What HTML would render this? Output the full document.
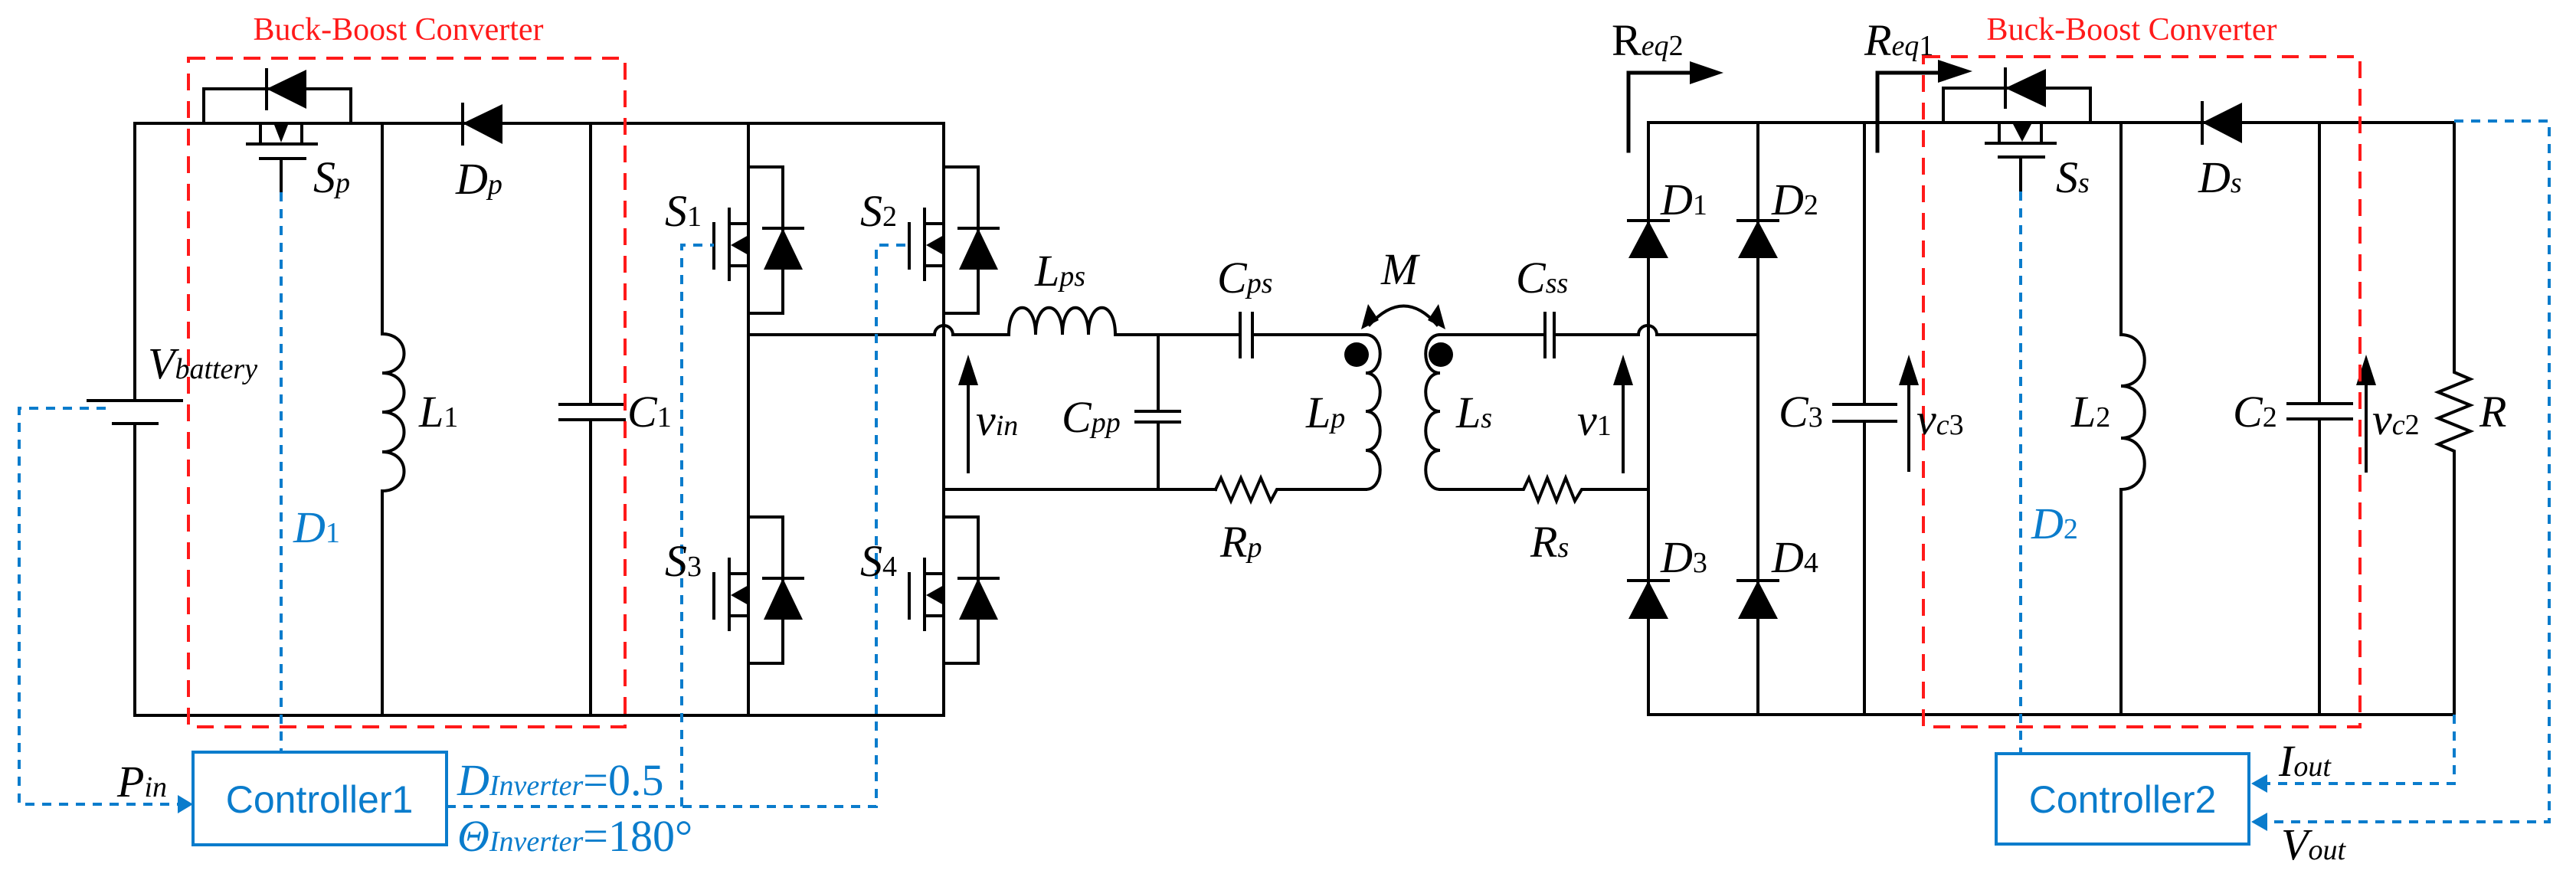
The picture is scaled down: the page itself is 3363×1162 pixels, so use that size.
<!DOCTYPE html>
<html><head><meta charset="utf-8"><style>
html,body{margin:0;padding:0;background:#fff;}
svg{display:block;}
text{font-family:"Liberation Serif",serif;}
.l{font-style:italic;font-size:58px;fill:#000;}
.s{font-size:38px;}
.b{fill:#0a7ccc;}
</style></head><body>
<svg width="3363" height="1162" viewBox="0 0 3363 1162" xmlns="http://www.w3.org/2000/svg">
<defs>
<g id="mos">
  <line x1="977" y1="292" x2="952" y2="292"/>
  <line x1="977" y1="347" x2="952" y2="347"/>
  <line x1="952" y1="273" x2="952" y2="365"/>
  <line x1="932" y1="292" x2="932" y2="350"/>
  <polygon points="954,320 977,307 977,333" fill="#000" stroke="none"/>
  <polyline points="977,218 1022,218 1022,409 977,409" fill="none"/>
  <polygon points="1022,298 997,352 1048,352" fill="#000" stroke="none"/>
  <line x1="997" y1="298" x2="1048" y2="298"/>
</g>
</defs>
<g stroke="#000" stroke-width="4" fill="none" stroke-linecap="square">
<polyline points="176,523 176,161 1232,161"/>
<polyline points="176,553 176,934 1232,934"/>
<line x1="115" y1="523" x2="237" y2="523"/>
<line x1="148" y1="553" x2="205" y2="553"/>
<polyline points="266,161 266,116 458,116 458,161"/>
<polygon points="348,116 400,91 400,142" fill="#000" stroke="none"/>
<line x1="348" y1="91" x2="348" y2="142"/>
<line x1="340" y1="161" x2="340" y2="188"/>
<line x1="394" y1="161" x2="394" y2="188"/>
<line x1="323" y1="188" x2="413" y2="188"/>
<polygon points="358,163 376,163 367,186" fill="#000" stroke="none"/>
<line x1="340" y1="207" x2="398" y2="207"/>
<line x1="367" y1="207" x2="367" y2="251"/>
<polygon points="604,161 656,136 656,188" fill="#000" stroke="none"/>
<line x1="604" y1="136" x2="604" y2="188"/>
<line x1="499" y1="161" x2="499" y2="436"/>
<path d="M499,436 C537,436 537,487 499,487 C537,487 537,538 499,538 C537,538 537,590 499,590 C537,590 537,641 499,641"/>
<line x1="499" y1="641" x2="499" y2="934"/>
<line x1="771" y1="161" x2="771" y2="528"/>
<line x1="731" y1="528" x2="815" y2="528"/>
<line x1="731" y1="548" x2="815" y2="548"/>
<line x1="771" y1="548" x2="771" y2="934"/>
<line x1="977" y1="161" x2="977" y2="934"/>
<line x1="1232" y1="161" x2="1232" y2="934"/>
<use href="#mos"/>
<use href="#mos" transform="translate(255,0)"/>
<use href="#mos" transform="translate(0,457)"/>
<use href="#mos" transform="translate(255,457)"/>
<path d="M977,437 L1220,437 A12,12 0 0 1 1244,437 L1317,437"/>
<path d="M1317,437 C1317,390 1352,390 1352,437 C1352,390 1387,390 1387,437 C1387,390 1421,390 1421,437 C1421,390 1456,390 1456,437"/>
<line x1="1456" y1="437" x2="1619" y2="437"/>
<line x1="1619" y1="409" x2="1619" y2="466"/>
<line x1="1635" y1="409" x2="1635" y2="466"/>
<line x1="1635" y1="437" x2="1783" y2="437"/>
<line x1="1232" y1="639" x2="1587" y2="639"/>
<line x1="1512" y1="437" x2="1512" y2="537"/>
<line x1="1483" y1="537" x2="1540" y2="537"/>
<line x1="1483" y1="551" x2="1540" y2="551"/>
<line x1="1512" y1="551" x2="1512" y2="639"/>
<polyline points="1587,639 1594,624 1607,654 1620,624 1633,654 1646,624 1659,654 1667,639 1783,639"/>
<path d="M1783,437 C1808,437 1808,487 1783,487 C1808,487 1808,537 1783,537 C1808,537 1808,588 1783,588 C1808,588 1808,639 1783,639"/>
<path d="M1880,437 C1855,437 1855,487 1880,487 C1855,487 1855,537 1880,537 C1855,537 1855,588 1880,588 C1855,588 1855,639 1880,639"/>
<line x1="1880" y1="437" x2="2017" y2="437"/>
<line x1="2017" y1="409" x2="2017" y2="466"/>
<line x1="2029" y1="409" x2="2029" y2="466"/>
<path d="M2029,437 L2139,437 A12,12 0 0 1 2163,437 L2295,437"/>
<polyline points="1880,639 1989,639 1996,624 2008,654 2020,624 2032,654 2044,624 2056,654 2065,639 2152,639"/>
<path d="M1788,424 Q1833,375 1876,424"/>
<polyline points="2152,160 3204,160"/>
<polyline points="2152,160 2152,933 3204,933"/>
<line x1="2295" y1="160" x2="2295" y2="933"/>
<line x1="2434" y1="160" x2="2434" y2="528"/>
<line x1="2394" y1="528" x2="2475" y2="528"/>
<line x1="2394" y1="550" x2="2475" y2="550"/>
<line x1="2434" y1="550" x2="2434" y2="933"/>
<line x1="2126" y1="288" x2="2178" y2="288"/>
<line x1="2269" y1="288" x2="2321" y2="288"/>
<line x1="2126" y1="758" x2="2178" y2="758"/>
<line x1="2269" y1="758" x2="2321" y2="758"/>
<polyline points="2126,197 2126,95 2210,95" stroke-width="5"/>
<polyline points="2451,197 2451,95 2533,95" stroke-width="5"/>
<polyline points="2537,160 2537,115 2729,115 2729,160"/>
<line x1="2618" y1="90" x2="2618" y2="140"/>
<line x1="2610" y1="160" x2="2610" y2="187"/>
<line x1="2665" y1="160" x2="2665" y2="187"/>
<line x1="2593" y1="187" x2="2683" y2="187"/>
<line x1="2610" y1="205" x2="2668" y2="205"/>
<line x1="2638" y1="205" x2="2638" y2="250"/>
<line x1="2875" y1="134" x2="2875" y2="187"/>
<line x1="2769" y1="160" x2="2769" y2="437"/>
<path d="M2769,437 C2810,437 2810,504 2769,504 C2810,504 2810,572 2769,572 C2810,572 2810,639 2769,639"/>
<line x1="2769" y1="639" x2="2769" y2="933"/>
<line x1="3028" y1="160" x2="3028" y2="527"/>
<line x1="2987" y1="527" x2="3070" y2="527"/>
<line x1="2987" y1="547" x2="3070" y2="547"/>
<line x1="3028" y1="547" x2="3028" y2="933"/>
<polyline points="3204,160 3204,486 3225,495 3183,512 3225,529 3183,546 3225,563 3183,580 3204,589 3204,933"/>
<line x1="1264" y1="616" x2="1264" y2="500"/>
<line x1="2119" y1="616" x2="2119" y2="500"/>
<line x1="2492" y1="614" x2="2492" y2="500"/>
<line x1="3089" y1="615" x2="3089" y2="500"/>
</g>
<g fill="#000">
<polygon points="2152,288 2126,337 2178,337"/>
<polygon points="2295,288 2269,337 2321,337"/>
<polygon points="2152,758 2126,808 2178,808"/>
<polygon points="2295,758 2269,808 2321,808"/>
<polygon points="2250,95 2206,80 2206,110"/>
<polygon points="2575,93 2530,78 2530,108"/>
<polygon points="2618,115 2671,90 2671,140"/>
<polygon points="2628,162 2652,162 2640,185"/>
<polygon points="2875,160 2927,134 2927,187"/>
<polygon points="1264,463 1251,503 1277,503"/>
<polygon points="2119,463 2106,503 2132,503"/>
<polygon points="2492,463 2479,503 2505,503"/>
<polygon points="3089,463 3076,503 3102,503"/>
<circle cx="1771" cy="463" r="16"/>
<circle cx="1881" cy="463" r="16"/>
<polygon points="1777,430 1786,397 1800,418"/>
<polygon points="1887,430 1878,397 1864,418"/>
</g>
<g stroke="#ff1a1a" stroke-width="4" fill="none" stroke-dasharray="22,14">
<rect x="246" y="76" width="570" height="873"/>
<rect x="2511" y="74" width="570" height="875"/>
</g>
<text x="520" y="52" text-anchor="middle" font-size="42" fill="#ff1a1a">Buck-Boost Converter</text>
<text x="2783" y="52" text-anchor="middle" font-size="42" fill="#ff1a1a">Buck-Boost Converter</text>
<g stroke="#0a7ccc" stroke-width="4" fill="none" stroke-dasharray="12,10">
<polyline points="367,251 367,982"/>
<polyline points="138,533 25,533 25,1050 235,1050"/>
<polyline points="583,1053 1144,1053 1144,320 1187,320"/>
<polyline points="890,1053 890,320 932,320"/>
<polyline points="2638,250 2638,984"/>
<polyline points="3204,933 3204,1023 2960,1023"/>
<polyline points="3204,158 3328,158 3328,1073 2960,1073"/>
</g>
<g fill="#0a7ccc">
<polygon points="252,1050 232,1038 232,1062"/>
<polygon points="2939,1023 2960,1011 2960,1035"/>
<polygon points="2939,1073 2960,1061 2960,1085"/>
</g>
<rect x="252" y="982" width="331" height="121" fill="none" stroke="#0a7ccc" stroke-width="4"/>
<rect x="2606" y="984" width="330" height="118" fill="none" stroke="#0a7ccc" stroke-width="4"/>
<text x="417" y="1061" text-anchor="middle" font-size="50" fill="#0a7ccc" style="font-family:'Liberation Sans',sans-serif">Controller1</text>
<text x="2771" y="1061" text-anchor="middle" font-size="50" fill="#0a7ccc" style="font-family:'Liberation Sans',sans-serif">Controller2</text>
<text class="l" x="409" y="251">S<tspan class="s">p</tspan></text>
<text class="l" x="595" y="253">D<tspan class="s">p</tspan></text>
<text class="l" x="193" y="494">V<tspan class="s">battery</tspan></text>
<text class="l" x="547" y="557">L<tspan class="s" font-style="normal">1</tspan></text>
<text class="l" x="819" y="557">C<tspan class="s" font-style="normal">1</tspan></text>
<text class="l b" x="383" y="708">D<tspan class="s" font-style="normal">1</tspan></text>
<text class="l" x="868" y="295">S<tspan class="s" font-style="normal">1</tspan></text>
<text class="l" x="1123" y="295">S<tspan class="s" font-style="normal">2</tspan></text>
<text class="l" x="868" y="752">S<tspan class="s" font-style="normal">3</tspan></text>
<text class="l" x="1123" y="752">S<tspan class="s" font-style="normal">4</tspan></text>
<text class="l" x="153" y="1040">P<tspan class="s">in</tspan></text>
<text class="l b" x="597" y="1038">D<tspan class="s">Inverter</tspan><tspan font-style="normal">=0.5</tspan></text>
<text class="l b" x="597" y="1111">Θ<tspan class="s">Inverter</tspan><tspan font-style="normal">=180°</tspan></text>
<text class="l" x="1351" y="373">L<tspan class="s">ps</tspan></text>
<text class="l" x="1589" y="382">C<tspan class="s">ps</tspan></text>
<text class="l" x="1803" y="371">M</text>
<text class="l" x="1979" y="382">C<tspan class="s">ss</tspan></text>
<text class="l" x="1274" y="568">v<tspan class="s">in</tspan></text>
<text class="l" x="1386" y="564">C<tspan class="s">pp</tspan></text>
<text class="l" x="1705" y="558">L<tspan class="s">p</tspan></text>
<text class="l" x="1901" y="558">L<tspan class="s">s</tspan></text>
<text class="l" x="2059" y="568">v<tspan class="s" font-style="normal">1</tspan></text>
<text class="l" x="1593" y="727">R<tspan class="s">p</tspan></text>
<text class="l" x="1998" y="727">R<tspan class="s">s</tspan></text>
<text x="2104" y="72" style="font-style:normal;font-size:58px">R<tspan class="s" style="font-style:italic">eq</tspan><tspan class="s">2</tspan></text>
<text class="l" x="2434" y="72">R<tspan class="s">eq</tspan><tspan class="s" font-style="normal">1</tspan></text>
<text class="l" x="2168" y="280">D<tspan class="s" font-style="normal">1</tspan></text>
<text class="l" x="2313" y="280">D<tspan class="s" font-style="normal">2</tspan></text>
<text class="l" x="2168" y="747">D<tspan class="s" font-style="normal">3</tspan></text>
<text class="l" x="2313" y="747">D<tspan class="s" font-style="normal">4</tspan></text>
<text class="l" x="2322" y="557">C<tspan class="s" font-style="normal">3</tspan></text>
<text class="l" x="2502" y="567">v<tspan class="s">c</tspan><tspan class="s" font-style="normal">3</tspan></text>
<text class="l" x="2684" y="251">S<tspan class="s">s</tspan></text>
<text class="l" x="2870" y="251">D<tspan class="s">s</tspan></text>
<text class="l" x="2704" y="557">L<tspan class="s" font-style="normal">2</tspan></text>
<text class="l" x="2915" y="557">C<tspan class="s" font-style="normal">2</tspan></text>
<text class="l" x="3097" y="567">v<tspan class="s">c</tspan><tspan class="s" font-style="normal">2</tspan></text>
<text class="l" x="3237" y="557">R</text>
<text class="l b" x="2652" y="703">D<tspan class="s" font-style="normal">2</tspan></text>
<text class="l" x="2975" y="1013">I<tspan class="s">out</tspan></text>
<text class="l" x="2978" y="1122">V<tspan class="s">out</tspan></text>
</svg>
</body></html>
